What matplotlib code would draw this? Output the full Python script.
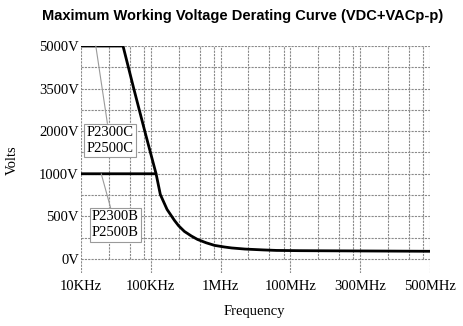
import matplotlib
matplotlib.use("Agg")
import matplotlib.pyplot as plt
import numpy as np

plt.rcParams.update({
    "font.family": "Liberation Serif",
    "font.size": 10.5,
})

# -------------------------------
# DATA
# -------------------------------
x_ticks_hz = [1e4, 1e5, 1e6, 1e8, 3e8, 5e8]
x_labels = ["10KHz", "100KHz", "1MHz", "100MHz", "300MHz", "500MHz"]
y_ticks_v = [0, 500, 1000, 2000, 3500, 5000]
y_labels = ["0V", "500V", "1000V", "2000V", "3500V", "5000V"]

# P2300C / P2500C
c_freq = [1e4, 4.0e4, 5.7e4, 8.2e4, 1.19e5]
c_volt = [5000, 5000, 3500, 2000, 1000]

# P2300B / P2500B
b_freq = [1e4, 1.19e5, 1.37e5, 1.71e5, 2.18e5, 2.5e5, 3.03e5, 3.8e5, 4.67e5,
          6.2e5, 8.2e5, 1.3e6, 2.08e6, 5e6, 1.65e7, 4e7, 1.17e8, 5e8]
b_volt = [1000, 1000, 756, 581, 453, 390, 323, 270, 229,
          190, 159, 140, 129, 116, 106, 100, 97, 90]

# -------------------------------
# PIECEWISE SCALES (equal spacing per labelled tick)
# -------------------------------
x_idx = np.arange(len(x_ticks_hz))
x_log = np.log10(x_ticks_hz)


def x_fwd(f):
    f = np.clip(np.asarray(f, dtype=float), 1.0, None)
    return np.interp(np.log10(f), x_log, x_idx)


def x_inv(p):
    return 10 ** np.interp(p, x_idx, x_log)


y_ext = [-500] + y_ticks_v
y_idx = np.arange(-1, len(y_ticks_v))


def y_fwd(v):
    return np.interp(v, y_ext, y_idx)


def y_inv(p):
    return np.interp(p, y_idx, y_ext)


# -------------------------------
# FIGURE
# -------------------------------
fig = plt.figure(figsize=(4.64, 3.26), dpi=100)
ax = fig.add_axes([81 / 464, 1 - 273 / 326, (430 - 81) / 464, (273 - 46) / 326])
ax.set_xscale("function", functions=(x_fwd, x_inv))
ax.set_yscale("function", functions=(y_fwd, y_inv))
ax.set_xlim(x_ticks_hz[0], x_ticks_hz[-1])
ax.set_ylim(y_inv(-0.33), y_ticks_v[-1])

for s in ax.spines.values():
    s.set_visible(False)

grid_kw = dict(color="#8a8a8a", linewidth=0.8, linestyle=(0, (2, 1)))

ax.set_xticks(x_ticks_hz, x_labels)
ax.set_yticks(y_ticks_v, y_labels)
ax.set_xticks([], minor=True)
ax.set_yticks(y_inv(np.arange(len(y_ticks_v) - 1) + 0.5), minor=True)
ax.tick_params(which="both", length=0)
ax.tick_params(axis="x", pad=5)
ax.tick_params(axis="y", pad=1.5)
ax.xaxis.grid(True, which="major", **grid_kw)
ax.yaxis.grid(True, which="both", **grid_kw)

# minor vertical lines inside each segment (stop at 0V)
minor_frac = np.log10([2.5, 5, 8])
minor_pos = [i + fr for i in range(len(x_ticks_hz) - 1) for fr in minor_frac]
ax.vlines(x_inv(np.array(minor_pos)), 0, y_ticks_v[-1], zorder=1, **grid_kw)
ax.set_axisbelow(True)

ax.plot(c_freq, c_volt, color="black", linewidth=2, solid_capstyle="butt", zorder=3)
ax.plot(b_freq, b_volt, color="black", linewidth=2, solid_capstyle="butt", zorder=3)

box = dict(boxstyle="square,pad=0.15", facecolor="white", edgecolor="#9a9a9a", linewidth=0.8)
leader = dict(arrowstyle="-", color="#9a9a9a", linewidth=0.8, shrinkA=0, shrinkB=0)
ax.annotate("P2300C\nP2500C", xy=(1.63e4, 5000), xytext=(2.6e4, 1780),
            ha="center", va="center", bbox=box, arrowprops=leader,
            linespacing=1.3, zorder=4)
ax.annotate("P2300B\nP2500B", xy=(1.95e4, 1000), xytext=(3.1e4, 400),
            ha="center", va="center", bbox=box, arrowprops=leader,
            linespacing=1.3, zorder=4)

fig.text(12 / 464, 1 - 160 / 326, "Volts", rotation=90, ha="center", va="center")
fig.text(254 / 464, 1 - 311 / 326, "Frequency", ha="center", va="center")
fig.text(243 / 464, 1 - 16 / 326, "Maximum Working Voltage Derating Curve (VDC+VACp-p)",
         ha="center", va="center", family="Liberation Sans", weight="bold", fontsize=10.5)

fig.savefig("out.png", dpi=100)
